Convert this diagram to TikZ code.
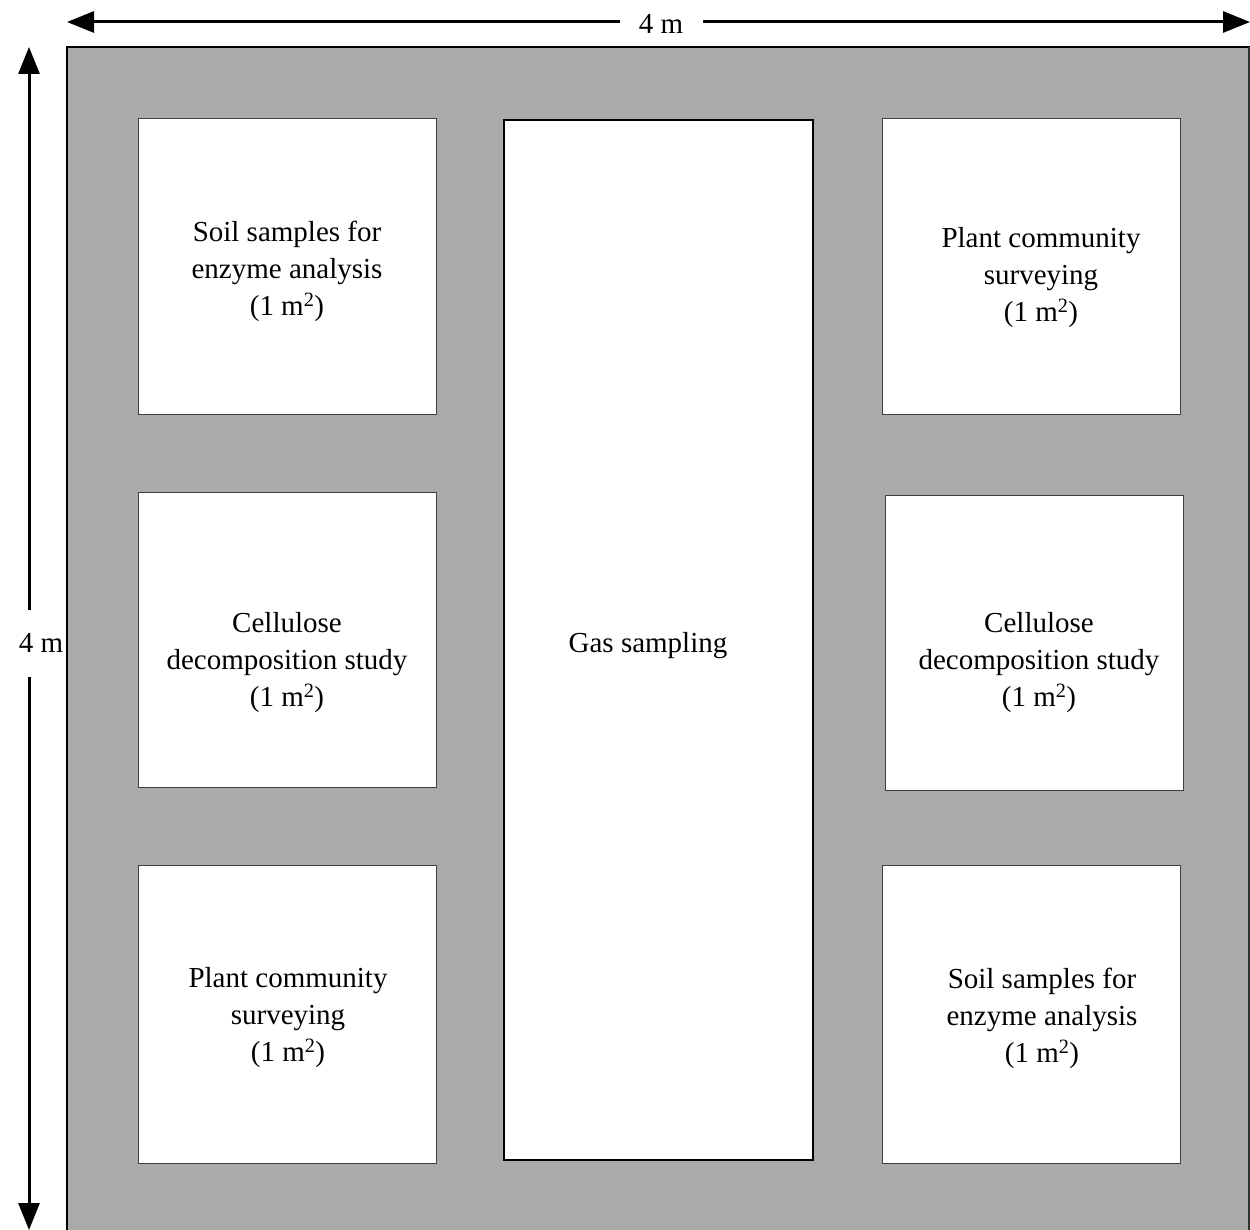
\documentclass[tikz,border=0pt]{standalone}
\usepackage{fontspec}
\setmainfont{Liberation Serif}
\usetikzlibrary{arrows.meta}
\definecolor{plotgrey}{HTML}{AAAAAA}
\tikzset{
  txt/.style={align=center,font=\fontsize{29}{37}\selectfont,inner sep=0pt},
  plot/.style={draw=black!75,line width=1pt,fill=white},
  dim/.style={line width=3pt,{Triangle[length=27pt,width=21pt]}-{Triangle[length=27pt,width=21pt]}},
  dimlabel/.style={fill=white,font=\fontsize{29}{37}\selectfont,inner sep=0pt}
}
\newcommand{\sqm}{(1 m\textsuperscript{2})}
\begin{document}
\begin{tikzpicture}[x=1pt,y=-1pt]
\useasboundingbox (0,0) rectangle (1250,1230);
% field
\fill[plotgrey] (67,47) rectangle (1252,1232);
\draw[line width=2.5pt] (67,1232) -- (67,47) -- (1252,47);
\draw[line width=1.2pt,black!80] (1249,47) -- (1249,1232);
% plots
\draw[plot] (138,119) rectangle (436,414);
\draw[plot] (882,119) rectangle (1180,414);
\draw[plot] (138,492) rectangle (436,787);
\draw[plot] (885,495) rectangle (1183,790);
\draw[plot] (138,865) rectangle (436,1163);
\draw[plot] (882,865) rectangle (1180,1163);
\draw[line width=2.5pt,fill=white] (504,120) rectangle (813,1160);
% texts
\node[txt] (tl) at (287,271) {Soil samples for\\enzyme analysis\\\sqm};
\node[txt] (tr) at (1041,278) {Plant community\\surveying\\\sqm};
\node[txt] (ml) at (287,663) {Cellulose\\decomposition study\\\sqm};
\node[txt] (gas) at (648,646) {Gas sampling};
\node[txt] (mr) at (1039,663) {Cellulose\\decomposition study\\\sqm};
\node[txt] (bl) at (288,1018) {Plant community\\surveying\\\sqm};
\node[txt] (br) at (1042,1018) {Soil samples for\\enzyme analysis\\\sqm};
% dimensions
\coordinate (hl) at (67,22);
\coordinate (hr) at (1250,22);
\coordinate (vt) at (29,47);
\coordinate (vb) at (29,1230);
\draw[dim] (hl) -- (hr);
\draw[dim] (vt) -- (vb);
\node[dimlabel,minimum width=83pt,minimum height=30pt] (wlab) at (661,24) {4 m};
\node[dimlabel,minimum width=44pt,minimum height=67pt] (hlab) at (41,643) {4 m};
\end{tikzpicture}
\end{document}
